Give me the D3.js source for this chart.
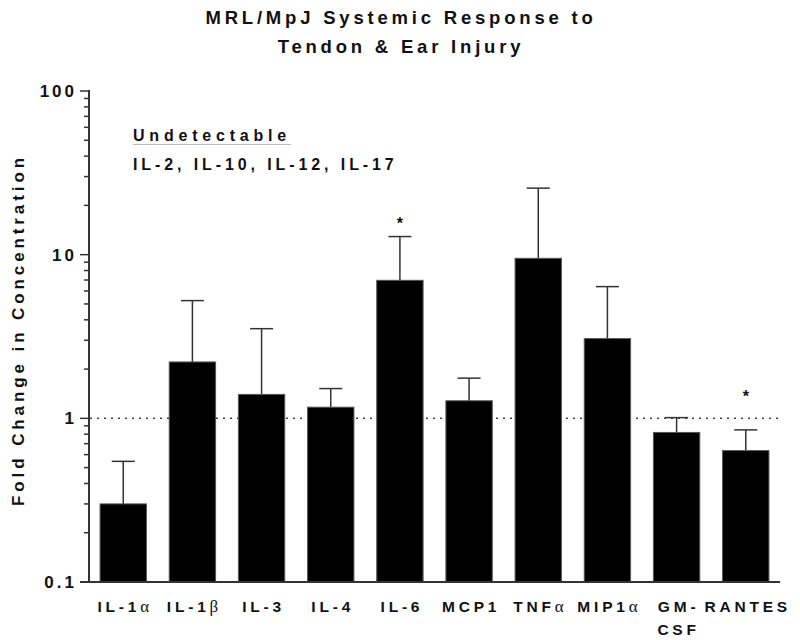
<!DOCTYPE html>
<html lang="en">
<head>
  <meta charset="UTF-8">
  <title>MRL/MpJ Systemic Response</title>
  <script src="https://d3js.org/d3.v7.min.js"></script>
  <style>
    html, body { margin: 0; padding: 0; background: #fff; }
    svg { display: block; }
    text { font-family: "Liberation Sans", Arial, sans-serif; font-weight: bold; fill: #111; }
  </style>
</head>
<body>
<svg id="chart" width="800" height="640"></svg>
<script>
  // cytokine names (label parts: [text, greek])
  const categories = ["IL-1a", "IL-1b", "IL-3", "IL-4", "IL-6", "MCP1", "TNFa", "MIP1a", "GM-CSF", "RANTES"];
  const labelParts = [
    [["IL-1", ""], ["α", "g"]],
    [["IL-1", ""], ["β", "g"]],
    [["IL-3", ""]],
    [["IL-4", ""]],
    [["IL-6", ""]],
    [["MCP1", ""]],
    [["TNF", ""], ["α", "g"]],
    [["MIP1", ""], ["α", "g"]],
    [["GM-", ""]],
    [["RANTES", ""]]
  ];
  const secondLine = ["", "", "", "", "", "", "", "", "CSF", ""];
  const means = [0.30, 2.21, 1.40, 1.17, 6.97, 1.28, 9.5, 3.07, 0.82, 0.635];
  const errTop = [0.546, 5.24, 3.53, 1.52, 12.9, 1.76, 25.5, 6.38, 1.01, 0.85];
  // value where the significance star sits (null = none)
  const starAt = [null, null, null, null, 16, null, null, null, null, 1.41];
  const yTicks = [0.1, 1, 10, 100];
  const yTickLabels = ["0.1", "1", "10", "100"];

  const svg = d3.select("#chart");

  const x = d3.scaleBand()
    .domain(categories)
    .range([89, 780])
    .paddingInner(0.33)
    .paddingOuter(0.16);

  const y = d3.scaleLog()
    .domain([0.1, 100])
    .range([582, 91]);

  const cx = d => x(d) + x.bandwidth() / 2;

  // title
  const title = svg.append("text")
    .attr("text-anchor", "middle")
    .attr("font-size", 18.5)
    .attr("letter-spacing", 3.8);
  title.append("tspan").attr("x", 401).attr("y", 24).text("MRL/MpJ Systemic Response to");
  title.append("tspan").attr("x", 401).attr("y", 53).text("Tendon & Ear Injury");

  // y axis label
  svg.append("text")
    .attr("transform", "translate(24,330) rotate(-90)")
    .attr("text-anchor", "middle")
    .attr("font-size", 17)
    .attr("letter-spacing", 3.9)
    .text("Fold Change in Concentration");

  // minor ticks
  const minor = [];
  [0.1, 1, 10].forEach(d => { for (let k = 2; k <= 9; k++) minor.push(d * k); });

  svg.append("g").selectAll("line")
    .data(minor)
    .join("line")
    .attr("x1", 84).attr("x2", 89)
    .attr("y1", d => y(d)).attr("y2", d => y(d))
    .attr("stroke", "#333").attr("stroke-width", 1.5);

  svg.append("g").selectAll("line")
    .data(yTicks)
    .join("line")
    .attr("x1", 80).attr("x2", 89)
    .attr("y1", d => y(d)).attr("y2", d => y(d))
    .attr("stroke", "#333").attr("stroke-width", 1.5);

  svg.append("g").selectAll("text")
    .data(yTicks)
    .join("text")
    .attr("x", 77)
    .attr("y", d => y(d))
    .attr("dy", "0.36em")
    .attr("text-anchor", "end")
    .attr("font-size", 17)
    .attr("letter-spacing", 3)
    .text((d, i) => yTickLabels[i]);

  // dotted reference line at 1
  svg.append("line")
    .attr("x1", 90).attr("x2", 780)
    .attr("y1", y(1)).attr("y2", y(1))
    .attr("stroke", "#444").attr("stroke-width", 1.5)
    .attr("stroke-dasharray", "2,5");

  // error bars
  const err = svg.append("g").attr("stroke", "#333").attr("stroke-width", 1.5);
  err.selectAll("line.v")
    .data(categories)
    .join("line")
    .attr("class", "v")
    .attr("x1", cx)
    .attr("x2", cx)
    .attr("y1", (d, i) => y(means[i]))
    .attr("y2", (d, i) => y(errTop[i]));
  err.selectAll("line.cap")
    .data(categories)
    .join("line")
    .attr("class", "cap")
    .attr("x1", d => cx(d) - 11.5)
    .attr("x2", d => cx(d) + 11.5)
    .attr("y1", (d, i) => y(errTop[i]))
    .attr("y2", (d, i) => y(errTop[i]));

  // bars
  svg.append("g").selectAll("rect")
    .data(categories)
    .join("rect")
    .attr("x", d => x(d))
    .attr("width", x.bandwidth())
    .attr("y", (d, i) => y(means[i]))
    .attr("height", (d, i) => y(0.1) - y(means[i]))
    .attr("fill", "#000")
    .attr("stroke", "#555")
    .attr("stroke-width", 1);

  // significance stars
  svg.append("g").selectAll("text")
    .data(categories.filter((d, i) => starAt[i] !== null))
    .join("text")
    .attr("x", cx)
    .attr("y", d => y(starAt[categories.indexOf(d)]) + 8)
    .attr("text-anchor", "middle")
    .attr("font-size", 16)
    .attr("font-weight", "normal")
    .text("*");

  // axes lines
  svg.append("line")
    .attr("x1", 89).attr("x2", 89).attr("y1", 90).attr("y2", 583)
    .attr("stroke", "#333").attr("stroke-width", 2);
  svg.append("line")
    .attr("x1", 80).attr("x2", 780).attr("y1", 582).attr("y2", 582)
    .attr("stroke", "#333").attr("stroke-width", 2);

  // x labels
  const xl = svg.append("g").selectAll("text")
    .data(categories)
    .join("text")
    .attr("x", d => cx(d) + 2)
    .attr("y", 612)
    .attr("text-anchor", "middle")
    .attr("font-size", 15.5)
    .attr("letter-spacing", 3.8);
  xl.each(function (d, i) {
    const t = d3.select(this);
    labelParts[i].forEach(p => {
      const s = t.append("tspan").text(p[0]);
      if (p[1] === "g") s.attr("font-family", "'Liberation Serif', serif").attr("font-weight", "normal").attr("font-size", 17);
    });
  });
  svg.append("g").selectAll("text")
    .data(categories.filter((d, i) => secondLine[i]))
    .join("text")
    .attr("x", d => cx(d) + 2)
    .attr("y", 635)
    .attr("text-anchor", "middle")
    .attr("font-size", 15.5)
    .attr("letter-spacing", 3.8)
    .text(d => secondLine[categories.indexOf(d)]);

  // undetectable note
  svg.append("text")
    .attr("x", 133).attr("y", 141)
    .attr("font-size", 16)
    .attr("letter-spacing", 4.8)
    .text("Undetectable");
  svg.append("line")
    .attr("x1", 133).attr("x2", 291).attr("y1", 144.5).attr("y2", 144.5)
    .attr("stroke", "#bbb").attr("stroke-width", 1);
  svg.append("text")
    .attr("x", 133).attr("y", 170)
    .attr("font-size", 16)
    .attr("letter-spacing", 3.9)
    .text("IL-2, IL-10, IL-12, IL-17");
</script>
</body>
</html>
